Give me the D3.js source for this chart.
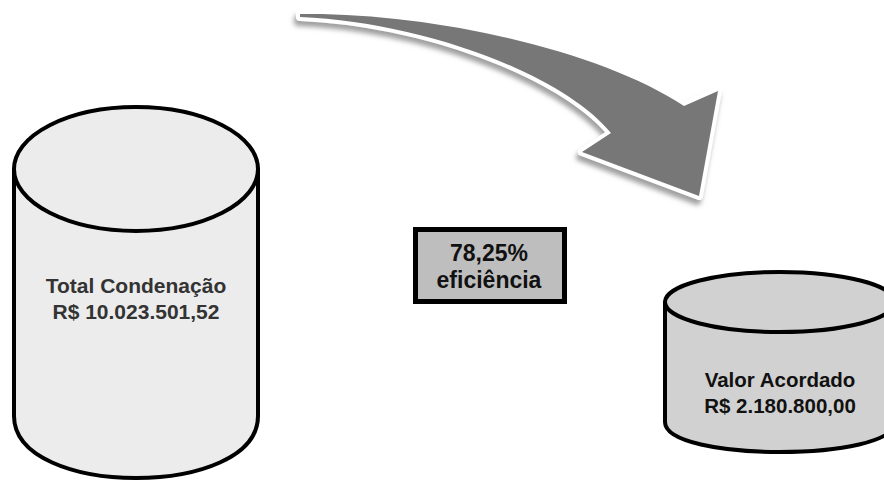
<!DOCTYPE html>
<html>
<head>
<meta charset="utf-8">
<script src="https://cdn.jsdelivr.net/npm/d3@7"></script>
<style>
  html, body { margin: 0; padding: 0; background: #fff; overflow: hidden; }
  svg text { font-family: Arial, "Liberation Sans", Helvetica, sans-serif; font-weight: bold; }
</style>
</head>
<body>
<script>
// dados
const rotulos = ["Total Condenação", "Valor Acordado"];
const valores = [10023501.52, 2180800.00];
const eficiencia = [0.7825];
const eficienciaRotulo = ["eficiência"];

const width = 884, height = 482;

const br = d3.formatLocale({
    decimal: ",",
    thousands: ".",
    grouping: [3],
    currency: ["R$ ", ""]
});
const moeda = br.format("$,.2f");
const pct = br.format(".2%");

// geometria dos cilindros (posicoes, nao dados)
const cil = [
    { cx: 136, rx: 122, ry: 62, top: 169, bottom: 416, fill: "#ececec", color: "#333", fs: 21, ty: 293 },
    { cx: 780, rx: 115, ry: 30, top: 302, bottom: 422, fill: "#d1d1d1", color: "#111", fs: 20.5, ty: 387 }
];

var svg = d3.select("body")
    .append("svg")
    .attr("width", width)
    .attr("height", height);

var defs = svg.append("defs");
var f = defs.append("filter")
    .attr("id", "sombra")
    .attr("x", "-20%").attr("y", "-40%")
    .attr("width", "140%").attr("height", "180%");
f.append("feDropShadow")
    .attr("dx", -2)
    .attr("dy", 5)
    .attr("stdDeviation", 2.5)
    .attr("flood-color", "#888")
    .attr("flood-opacity", 0.8);

// seta curva
var p = d3.path();
p.moveTo(300, 14);
p.bezierCurveTo(430, 12, 600, 50, 684, 106);
p.lineTo(718, 91);
p.lineTo(699, 196);
p.lineTo(582, 152);
p.lineTo(611, 133);
p.bezierCurveTo(560, 72, 420, 22, 300, 17);
p.closePath();

svg.append("path")
    .attr("d", p.toString())
    .attr("fill", "#fff")
    .attr("stroke", "#fff")
    .attr("stroke-width", 8)
    .attr("stroke-linejoin", "round")
    .attr("filter", "url(#sombra)");

svg.append("path")
    .attr("d", p.toString())
    .attr("fill", "#777");

// cilindros
cil.forEach((c, i) => {
    var g = svg.append("g");
    var x0 = c.cx - c.rx, x1 = c.cx + c.rx;
    var body = d3.path();
    body.moveTo(x0, c.top);
    body.lineTo(x0, c.bottom);
    body.bezierCurveTo(x0, c.bottom + c.ry * 1.333, x1, c.bottom + c.ry * 1.333, x1, c.bottom);
    body.lineTo(x1, c.top);
    body.closePath();

    g.append("path")
        .attr("d", body.toString())
        .attr("fill", c.fill)
        .attr("stroke", "#000")
        .attr("stroke-width", 4)
        .attr("stroke-linejoin", "round");

    g.append("ellipse")
        .attr("cx", c.cx)
        .attr("cy", c.top)
        .attr("rx", c.rx)
        .attr("ry", c.ry)
        .attr("fill", c.fill)
        .attr("stroke", "#000")
        .attr("stroke-width", 4);

    var t = g.append("text")
        .attr("text-anchor", "middle")
        .attr("fill", c.color)
        .style("font-size", c.fs + "px");
    t.append("tspan").attr("x", c.cx).attr("y", c.ty).text(rotulos[i]);
    t.append("tspan").attr("x", c.cx).attr("y", c.ty + 26).text(moeda(valores[i]));
});

// caixa de eficiencia
svg.append("rect")
    .attr("x", 415.5)
    .attr("y", 229.5)
    .attr("width", 149)
    .attr("height", 72)
    .attr("fill", "#bebebe")
    .attr("stroke", "#000")
    .attr("stroke-width", 5);

var tb = svg.append("text")
    .attr("text-anchor", "middle")
    .attr("fill", "#111")
    .style("font-size", "23px");
tb.append("tspan").attr("x", 489).attr("y", 261).text(pct(eficiencia[0]));
tb.append("tspan").attr("x", 489).attr("y", 288).text(eficienciaRotulo[0]);
</script>
</body>
</html>
